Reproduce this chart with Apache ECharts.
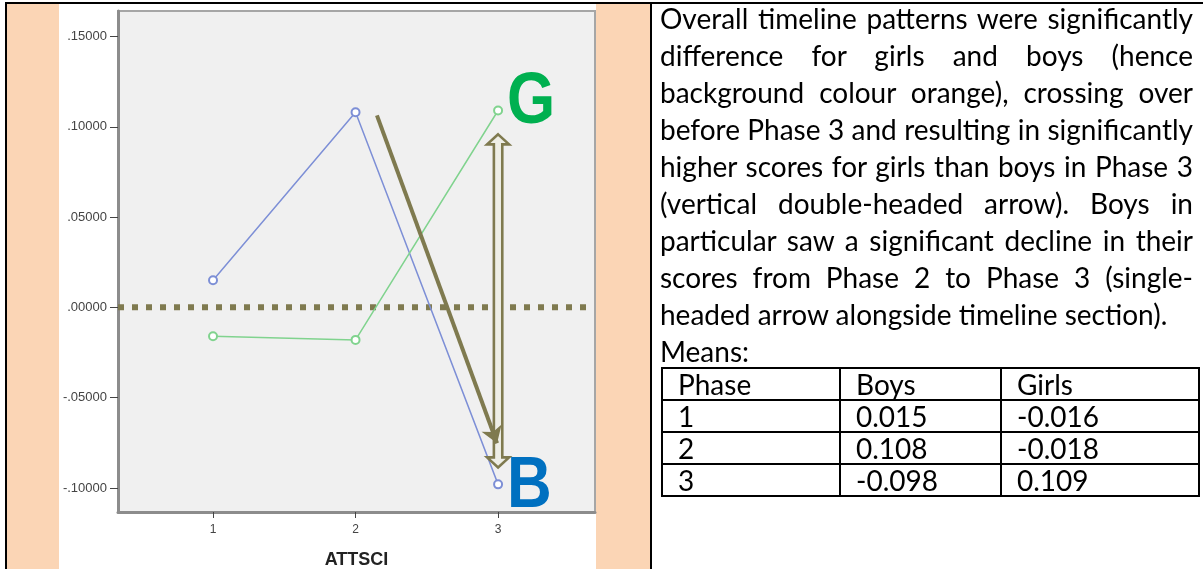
<!DOCTYPE html>
<html><head><meta charset="utf-8">
<script src="https://cdn.jsdelivr.net/npm/echarts@6/dist/echarts.min.js"></script>
<style>
html,body{margin:0;padding:0;background:#fff;}
body{width:1203px;height:569px;position:relative;overflow:hidden;}
.abs{position:absolute;}
#chart{position:absolute;left:0;top:0;width:1203px;height:569px;z-index:1;}
.orange{background:#fbd5b5;z-index:0;}
.black{background:#000;z-index:3;}
#txt{position:absolute;left:660px;top:0px;width:533px;z-index:2;font-family:Lato,'Open Sans',sans-serif;font-size:28px;color:#000;}
#txt .ln{height:37px;line-height:37px;white-space:nowrap;text-align:justify;text-align-last:justify;}
#txt .ln.left{text-align:left;text-align-last:left;}
#tbl{position:absolute;left:661px;top:367px;z-index:2;border-collapse:collapse;font-family:Lato,'Open Sans',sans-serif;font-size:28px;}
#tbl td{border:2px solid #000;height:32px;padding:0 0 0 15px;line-height:30px;box-sizing:border-box;}
</style></head>
<body>
<div class="abs orange" style="left:7px;top:4px;width:52px;height:565px;"></div>
<div class="abs orange" style="left:596px;top:4px;width:54px;height:565px;"></div>
<div class="abs black" style="left:5px;top:2px;width:1198px;height:2px;"></div>
<div class="abs black" style="left:5px;top:2px;width:2px;height:567px;"></div>
<div class="abs black" style="left:650px;top:2px;width:2px;height:567px;"></div>
<div id="chart"></div>
<div id="txt"></div>
<table id="tbl"></table>
<script>
// ---- data ----
const phases = [1, 2, 3];
const boysMeans = [0.015, 0.108, -0.098];
const girlsMeans = [-0.016, -0.018, 0.109];
const xTicks = [1, 2, 3];
const yTicks = [-0.10, -0.05, 0, 0.05, 0.10, 0.15];
const xRange = [1 / 3, 3.68];
const yRange = [-0.1133, 0.1641];
const zeroLineX = [1 / 3, 3.62];
const declineArrow = [[2.15, 0.1063], [2.993, -0.0752]];
const diffArrow = [[3, 0.0958], [3, -0.0886]];
const axisName = 'ATTSCI';
const textLines = [
  'Overall timeline patterns were significantly',
  'difference for girls and boys (hence',
  'background colour orange), crossing over',
  'before Phase 3 and resulting in significantly',
  'higher scores for girls than boys in Phase 3',
  '(vertical double-headed arrow). Boys in',
  'particular saw a significant decline in their',
  'scores from Phase 2 to Phase 3 (single-',
  'headed arrow alongside timeline section).',
  'Means:'
];
const tableHeader = ['Phase', 'Boys', 'Girls'];
const tableBoys = ['0.015', '0.108', '-0.098'];
const tableGirls = ['-0.016', '-0.018', '0.109'];

// ---- text panel ----
const txt = document.getElementById('txt');
textLines.forEach((l, i) => {
  const d = document.createElement('div');
  d.className = 'ln' + (i >= textLines.length - 2 ? ' left' : '');
  d.textContent = l;
  txt.appendChild(d);
});
const tbl = document.getElementById('tbl');
const colW = [178, 161, 198];
const rows = [tableHeader].concat(phases.map((p, i) => [String(p), tableBoys[i], tableGirls[i]]));
rows.forEach(r => {
  const tr = document.createElement('tr');
  r.forEach((c, j) => {
    const td = document.createElement('td');
    td.textContent = c;
    td.style.width = colW[j] + 'px';
    tr.appendChild(td);
  });
  tbl.appendChild(tr);
});

// ---- chart ----
const olive = '#7f7a4f';
const blue = '#7d8fd6';
const green = '#80d38e';
const fmt = v => {
  const s = Math.abs(v).toFixed(5).replace(/^0/, '');
  return (v < -1e-9 ? '-' : '') + s;
};
const chart = echarts.init(document.getElementById('chart'), null, {renderer: 'canvas'});
chart.setOption({
  animation: false,
  backgroundColor: 'transparent',
  grid: {left: 118, top: 11, right: 608, bottom: 57, show: true, containLabel: false, outerBoundsMode: 'none',
         backgroundColor: '#f0f0f0', borderColor: '#a6a6a6', borderWidth: 2},
  xAxis: {
    type: 'value', min: xRange[0], max: xRange[1],
    name: axisName, nameLocation: 'middle', nameGap: 39,
    nameTextStyle: {fontWeight: 'bold', fontSize: 18, color: '#222', fontFamily: 'Liberation Sans'},
    axisLine: {show: true, onZero: false, lineStyle: {color: '#8c8c8c', width: 3}},
    axisTick: {show: true, customValues: xTicks, length: 6, lineStyle: {color: '#444', width: 1}},
    axisLabel: {customValues: xTicks, fontSize: 12, color: '#444', margin: 12, fontFamily: 'Liberation Sans'},
    splitLine: {show: false}
  },
  yAxis: {
    type: 'value', min: yRange[0], max: yRange[1],
    axisLine: {show: true, onZero: false, lineStyle: {color: '#8c8c8c', width: 3}},
    axisTick: {show: true, customValues: yTicks, length: 8, lineStyle: {color: '#444', width: 1}},
    axisLabel: {customValues: yTicks, formatter: fmt, fontSize: 13, color: '#444', margin: 11, fontFamily: 'Liberation Sans'},
    splitLine: {show: false}
  },
  series: [
    {type: 'line', name: 'zero', data: zeroLineX.map(x => [x, 0]), symbol: 'none', silent: true, z: 1,
     lineStyle: {color: olive, width: 6, type: [6, 8], cap: 'butt'}},
    {type: 'line', name: 'Boys', data: phases.map((p, i) => [p, boysMeans[i]]), symbol: 'emptyCircle', symbolSize: 8,
     lineStyle: {color: blue, width: 1.5}, itemStyle: {color: blue, borderWidth: 1.2}, z: 2},
    {type: 'line', name: 'Girls', data: phases.map((p, i) => [p, girlsMeans[i]]), symbol: 'emptyCircle', symbolSize: 8,
     lineStyle: {color: green, width: 1.5}, itemStyle: {color: green, borderWidth: 1.2}, z: 2},
    {type: 'lines', coordinateSystem: 'cartesian2d', data: [{coords: declineArrow}], z: 6, silent: true,
     symbol: ['none', 'arrow'], symbolSize: 16,
     lineStyle: {color: olive, width: 4, opacity: 1}}
  ]
});

// annotation graphics anchored to data coordinates
const pTop = chart.convertToPixel({gridIndex: 0}, diffArrow[0]);
const pBot = chart.convertToPixel({gridIndex: 0}, diffArrow[1]);
const cx = pTop[0], ty = pTop[1], by = pBot[1];
const hw = 11, sw = 4.2, hh = 10;
const pts = [[cx, ty], [cx + hw, ty + hh], [cx + sw, ty + hh], [cx + sw, by - hh], [cx + hw, by - hh], [cx, by],
  [cx - hw, by - hh], [cx - sw, by - hh], [cx - sw, ty + hh], [cx - hw, ty + hh]];
const gP = chart.convertToPixel({gridIndex: 0}, [phases[2], girlsMeans[2]]);
const bP = chart.convertToPixel({gridIndex: 0}, [phases[2], boysMeans[2]]);
chart.setOption({
  graphic: [
    {type: 'polygon', z: 4, shape: {points: pts}, style: {fill: '#eeeee6', stroke: olive, lineWidth: 2.6}},
    {type: 'text', z: 8, x: gP[0] + 9, y: gP[1] - 7, scaleX: 0.86,
     style: {text: 'G', fill: '#00b050', font: 'bold 72px "Liberation Sans"', align: 'left', verticalAlign: 'middle',
             shadowColor: 'rgba(0,0,0,0.35)', shadowBlur: 3, shadowOffsetX: 2, shadowOffsetY: 2}},
    {type: 'text', z: 8, x: bP[0] + 9, y: bP[1] + 3, scaleX: 0.86,
     style: {text: 'B', fill: '#0070c0', font: 'bold 72px "Liberation Sans"', align: 'left', verticalAlign: 'middle',
             shadowColor: 'rgba(0,0,0,0.35)', shadowBlur: 3, shadowOffsetX: 2, shadowOffsetY: 2}}
  ]
});
</script>
</body></html>
